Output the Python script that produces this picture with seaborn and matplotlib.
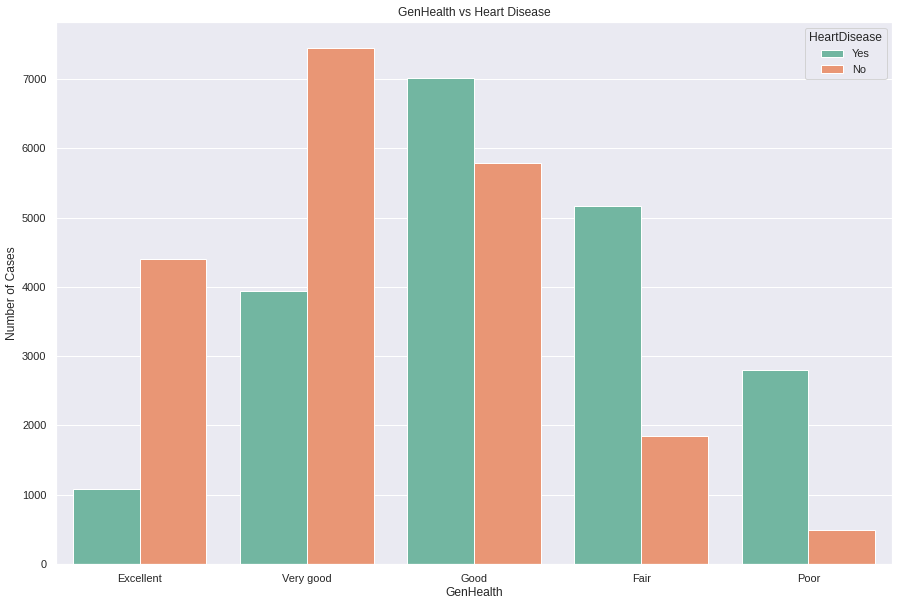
import matplotlib
matplotlib.use("Agg")
import matplotlib.pyplot as plt
import seaborn as sns
import pandas as pd

categories = ["Excellent", "Very good", "Good", "Fair", "Poor"]
hue_levels = ["Yes", "No"]
yes_counts = [1086, 3937, 7009, 5163, 2797]
no_counts = [4398, 7451, 5783, 1845, 489]

df = pd.DataFrame({
    "GenHealth": categories * 2,
    "HeartDisease": ["Yes"] * len(categories) + ["No"] * len(categories),
    "Count": yes_counts + no_counts,
})

sns.set_theme(style="darkgrid")
plt.rcParams["font.family"] = ["Liberation Sans", "DejaVu Sans"]

dpi = 72
fig = plt.figure(figsize=(899 / dpi, 605 / dpi), dpi=dpi)
ax = fig.add_axes([56 / 899, 1 - 564 / 605, (892 - 56) / 899, (564 - 22) / 605])

sns.barplot(data=df, x="GenHealth", y="Count", hue="HeartDisease",
            order=categories, hue_order=hue_levels, palette="Set2", ax=ax)

ax.set_title("GenHealth vs Heart Disease")
ax.set_xlabel("GenHealth")
ax.set_ylabel("Number of Cases")
sns.move_legend(ax, "upper right", title="HeartDisease")

fig.savefig("out.png", dpi=dpi)
